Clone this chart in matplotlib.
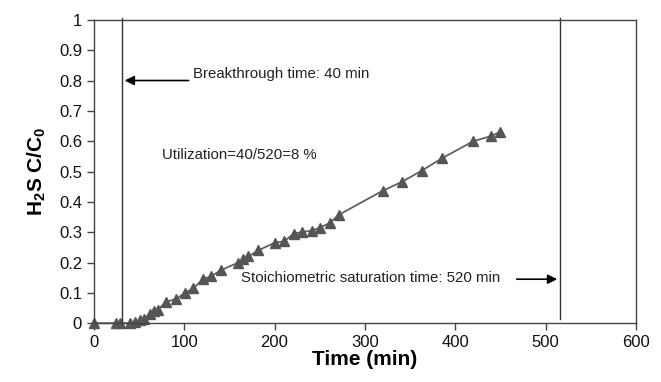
import numpy as np
from matplotlib import pyplot as plt

plt.rcParams['font.family'] = ['Liberation Sans', 'DejaVu Sans']
plt.rcParams['mathtext.fontset'] = 'custom'
plt.rcParams['mathtext.rm'] = 'Liberation Sans:bold'
plt.rcParams['mathtext.bf'] = 'Liberation Sans:bold'

# measured breakthrough curve
timeMin = [0, 25, 29, 40, 45, 51, 56, 62, 67, 71, 80, 91, 101, 110, 121, 130, 141,
           160, 165, 171, 182, 200, 211, 221, 230, 241, 250, 261, 271, 320, 341,
           363, 385, 420, 440, 450]
ratio = [0, 0, 0, 0, 0.005, 0.01, 0.015, 0.03, 0.04, 0.045, 0.07, 0.08, 0.1, 0.115,
         0.145, 0.155, 0.175, 0.2, 0.21, 0.22, 0.24, 0.265, 0.27, 0.295, 0.3, 0.305,
         0.315, 0.33, 0.357, 0.437, 0.466, 0.503, 0.543, 0.6, 0.617, 0.631]

breakthroughLine = 31
saturationLine = 516

xTicks = [0, 100, 200, 300, 400, 500, 600]
yTicks = [0, 0.1, 0.2, 0.3, 0.4, 0.5, 0.6, 0.7, 0.8, 0.9, 1]
yTickLabels = ["0", "0.1", "0.2", "0.3", "0.4", "0.5", "0.6", "0.7", "0.8", "0.9", "1"]

fig = plt.figure(figsize=(6.61, 3.82), dpi=100)
ax = fig.add_axes([0.142, 0.154, 0.820, 0.794])

ax.plot(timeMin, ratio, color="#606060", linewidth=1.3, marker="^",
        markersize=7.5, markerfacecolor="#555555", markeredgecolor="#555555", clip_on=False)

ax.plot([breakthroughLine, breakthroughLine], [0, 1.005], color="#333333", linewidth=1, clip_on=False)
ax.plot([saturationLine, saturationLine], [0.015, 1.005], color="#333333", linewidth=1, clip_on=False)

ax.annotate("", xy=(breakthroughLine, 0.8), xytext=(108, 0.8),
            arrowprops=dict(arrowstyle="-|>", color="black", linewidth=1.2, mutation_scale=14))
ax.text(110, 0.82, "Breakthrough time: 40 min", fontsize=10.8, va="center", color="#222222")

ax.text(75, 0.555, "Utilization=40/520=8 %", fontsize=10.8, va="center", color="#222222")

ax.text(163, 0.15, "Stoichiometric saturation time: 520 min", fontsize=10.8, va="center", color="#222222")
ax.annotate("", xy=(saturationLine, 0.145), xytext=(465, 0.145),
            arrowprops=dict(arrowstyle="-|>", color="black", linewidth=1.2, mutation_scale=14))

ax.set_xlim(0, 600)
ax.set_ylim(0, 1)
ax.set_xticks(xTicks)
ax.set_yticks(yTicks)
ax.set_yticklabels(yTickLabels)
ax.tick_params(labelsize=12, length=5, width=1, color="#444444", labelcolor="#111111")
for s in ax.spines.values():
    s.set_color("#444444")
    s.set_linewidth(1)

ax.set_xlabel("Time (min)", fontsize=15, fontweight="bold", labelpad=0)
ax.set_ylabel("H$_\\mathbf{2}$S C/C$_\\mathbf{0}$", fontsize=15, fontweight="bold", labelpad=8)

plt.savefig("out.png", dpi=100)
